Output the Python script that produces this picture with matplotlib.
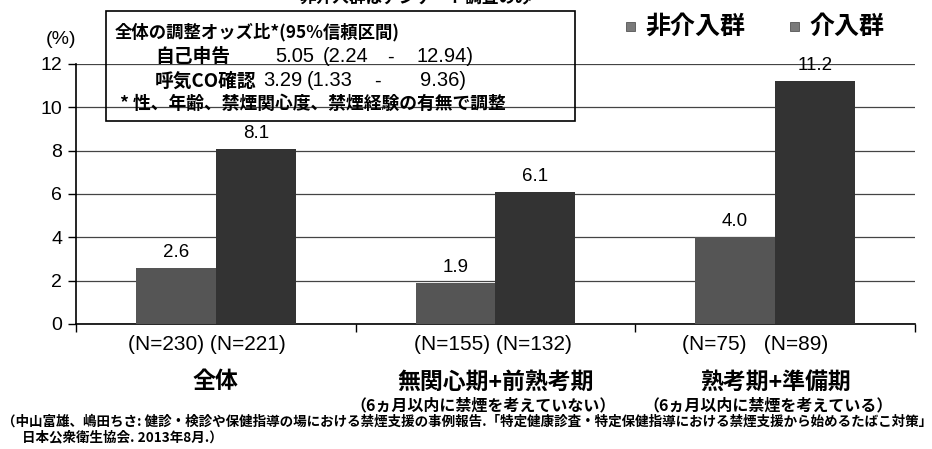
import matplotlib
matplotlib.use("Agg")
import matplotlib.pyplot as plt
from matplotlib.patches import Rectangle
from matplotlib.transforms import blended_transform_factory
import numpy as np

# ---- data ----
categories = ["全体", "無関心期+前熟考期", "熟考期+準備期"]
subcategories = ["", "（6ヵ月以内に禁煙を考えていない）", "（6ヵ月以内に禁煙を考えている）"]
series_names = ["非介入群", "介入群"]
non_intervention = [2.6, 1.9, 4.0]
intervention = [8.1, 6.1, 11.2]
n_labels = ["(N=230) (N=221)", "(N=155) (N=132)", "(N=75)   (N=89)"]
yticks = [0, 2, 4, 6, 8, 10, 12]

CJK = ["Noto Sans CJK JP", "DejaVu Sans"]
LAT = ["Liberation Sans", "DejaVu Sans"]
COL_NON = "#555555"
COL_INT = "#333333"

W, H = 932, 449
fig = plt.figure(figsize=(W / 100, H / 100), dpi=100)
fig.patch.set_facecolor("white")


def fx(px):
    return px / W


def fy(py):
    return 1 - py / H


ax = fig.add_axes([fx(76), fy(324), fx(915) - fx(76), fy(64) - fy(324)])
x = np.arange(len(categories))
bw = 0.286
b1 = ax.bar(x - bw / 2, non_intervention, bw, color=COL_NON, zorder=3)
b2 = ax.bar(x + bw / 2, intervention, bw, color=COL_INT, zorder=3)

ax.set_xlim(-0.5, len(categories) - 0.5)
ax.set_ylim(0, 12)
ax.set_yticks(yticks)
ax.set_yticklabels([str(v) for v in yticks], fontfamily=LAT, fontsize=14)
ax.yaxis.grid(True, color="#444444", linewidth=0.9, zorder=0)
ax.set_axisbelow(True)

for s in ["top", "right"]:
    ax.spines[s].set_visible(False)
ax.spines["left"].set_linewidth(1.2)
ax.spines["bottom"].set_linewidth(1.2)
ax.tick_params(axis="y", direction="out", length=6, width=1, pad=4)
ax.set_xticks(np.arange(len(categories) + 1) - 0.5)
ax.set_xticklabels([])
ax.tick_params(axis="x", direction="out", length=6, width=1)

# x in data units, y in figure pixels
xd_yfig = blended_transform_factory(ax.transData, fig.transFigure)
px_to_data = (len(categories)) / (915 - 76)

# value labels
for bars, vals in ((b1, non_intervention), (b2, intervention)):
    for rect, v in zip(bars, vals):
        ax.annotate(f"{v:.1f}", (rect.get_x() + rect.get_width() / 2, v),
                    xytext=(0, 5), textcoords="offset points",
                    ha="center", va="bottom", fontsize=13.5, fontfamily=LAT)

# sample sizes, category names and notes below the axis
n_shift = [-9, -3, -20]
sub_shift = [0, -12, -7]
for i, (c, sc) in enumerate(zip(categories, subcategories)):
    ax.text(i + n_shift[i] * px_to_data, fy(345), n_labels[i], transform=xd_yfig,
            ha="center", va="center", fontsize=15, fontfamily=LAT)
    ax.text(i, fy(382), c, transform=xd_yfig, ha="center", va="center",
            fontsize=16.5, fontweight="bold", fontfamily=CJK)
    if sc:
        ax.text(i + sub_shift[i] * px_to_data, fy(405), sc, transform=xd_yfig,
                ha="center", va="center", fontsize=11.5, fontweight="bold",
                fontfamily=CJK)

# axis unit
fig.text(fx(61), fy(39), "(%)", ha="center", va="center", fontsize=14, fontfamily=LAT)

# legend
for name, col, px in ((series_names[0], COL_NON, 626), (series_names[1], COL_INT, 790)):
    fig.patches.append(Rectangle((fx(px), fy(31)), fx(9), 9 / H, transform=fig.transFigure,
                                 facecolor="#7a7a7a", edgecolor="#555555", lw=0.6))
    fig.text(fx(px + 19), fy(27), name, ha="left", va="center", fontsize=18,
             fontweight="bold", fontfamily=CJK)

# odds-ratio box
fig.patches.append(Rectangle((fx(106), fy(121)), fx(575) - fx(106), (121 - 11) / H,
                             transform=fig.transFigure, fill=False, edgecolor="black",
                             lw=1.2, zorder=5))
fig.text(fx(115), fy(32), "全体の調整オッズ比*(95%信頼区間)", ha="left", va="center",
         fontsize=12.5, fontweight="bold", fontfamily=CJK)
fig.text(fx(155), fy(57), "自己申告", ha="left", va="center",
         fontsize=13.5, fontweight="bold", fontfamily=CJK)
fig.text(fx(155), fy(81), "呼気CO確認", ha="left", va="center",
         fontsize=13.5, fontweight="bold", fontfamily=CJK)
ci_rows = [
    (57, [(275, "left", "5.05"), (323, "left", "(2.24"), (390, "center", "-"), (474, "right", "12.94)")]),
    (81, [(263, "left", "3.29"), (307, "left", "(1.33"), (377, "center", "-"), (466, "right", "9.36)")]),
]
for py, parts in ci_rows:
    for px, ha, s in parts:
        fig.text(fx(px), fy(py), s, ha=ha, va="center", fontsize=14.5, fontfamily=LAT)
fig.text(fx(120), fy(104), "* 性、年齢、禁煙関心度、禁煙経験の有無で調整", ha="left",
         va="center", fontsize=12.8, fontweight="bold", fontfamily=CJK)

# heading line at the very top
fig.text(fx(300), fy(-2), "非介入群はアンケート調査のみ", ha="left", va="center",
         fontsize=12, fontweight="bold", fontfamily=CJK)

# source
fig.text(fx(2), fy(422), "（中山富雄、嶋田ちさ: 健診・検診や保健指導の場における禁煙支援の事例報告.「特定健康診査・特定保健指導における禁煙支援から始めるたばこ対策」",
         ha="left", va="center", fontsize=9.75, fontweight="bold", fontfamily=CJK)
fig.text(fx(22), fy(437), "日本公衆衛生協会. 2013年8月.）", ha="left", va="center",
         fontsize=9.75, fontweight="bold", fontfamily=CJK)

fig.savefig("out.png", dpi=100)
